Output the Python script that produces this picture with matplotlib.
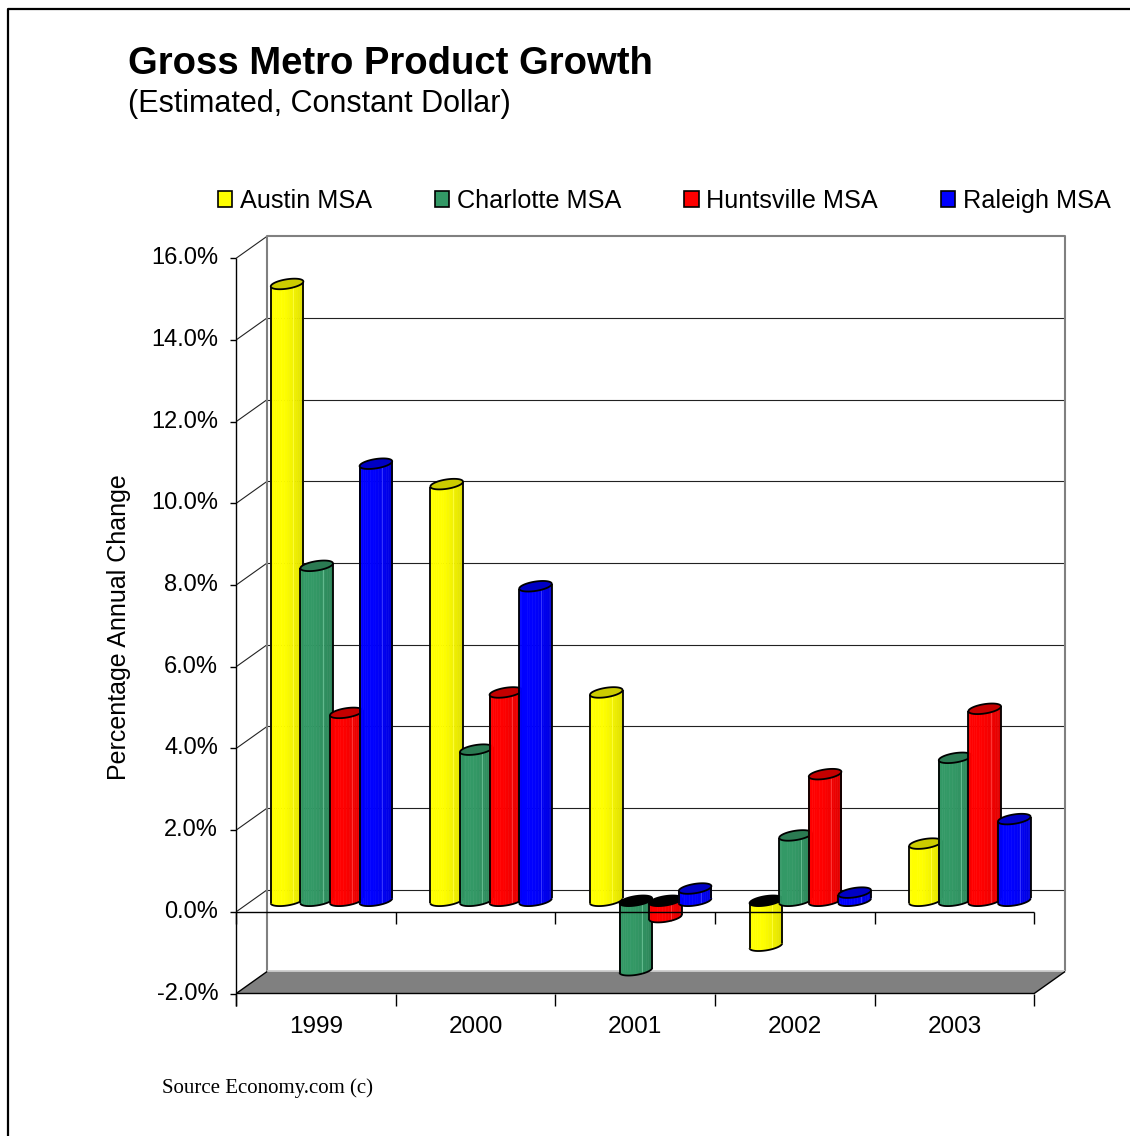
import numpy as np
import matplotlib
matplotlib.use("Agg")
import matplotlib.pyplot as plt
from matplotlib.patches import Polygon, Patch
from matplotlib.lines import Line2D

plt.rcParams['font.family'] = ['Liberation Sans', 'DejaVu Sans']

# data (% annual change)
years = ['1999', '2000', '2001', '2002', '2003']
series_names = ['Austin MSA', 'Charlotte MSA', 'Huntsville MSA', 'Raleigh MSA']
austin = [15.1, 10.2, 5.1, -1.1, 1.4]
charlotte = [8.2, 3.7, -1.7, 1.6, 3.5]
huntsville = [4.6, 5.1, -0.4, 3.1, 4.7]
raleigh = [10.7, 7.7, 0.3, 0.2, 2.0]
y_ticks = [-2, 0, 2, 4, 6, 8, 10, 12, 14, 16]

face_colors = ['#FFFF00', '#339966', '#FF0000', '#0000FF']
cap_colors = ['#CCCC00', '#2B7A52', '#C40000', '#0000C4']

# 3d box: depth offset, in data units
DX, DY = 0.194, 0.539
X0, X1 = -0.5, 4.5
YMIN, YMAX = -2, 16
PX_X, PX_Y = 159.6, 40.85   # pixels per category / per percent

fig = plt.figure(figsize=(11.3, 11.36), dpi=100)
ax = fig.add_axes([0, 0, 1, 1])
ax.set_xlim(-316 / PX_X, (1130 - 316) / PX_X)
ax.set_ylim((911.8 - 1136) / PX_Y, 911.8 / PX_Y)
ax.axis('off')


def line(xs, ys, **kw):
    ax.plot(xs, ys, solid_capstyle='butt', **kw)


# back wall
ax.add_patch(Polygon([(X0 + DX, YMIN + DY), (X1 + DX, YMIN + DY),
                      (X1 + DX, YMAX + DY), (X0 + DX, YMAX + DY)],
                     closed=True, fc='white', ec='none', zorder=1))
for v in y_ticks[1:-1]:
    line([X0 + DX, X1 + DX], [v + DY, v + DY], color='#222222', lw=0.8, zorder=2)
for v in y_ticks[1:]:
    line([X0, X0 + DX], [v, v + DY], color='#222222', lw=0.8, zorder=2)
line([X0 + DX, X0 + DX, X1 + DX, X1 + DX],
     [YMIN + DY, YMAX + DY, YMAX + DY, YMIN + DY], color='#808080', lw=1.5, zorder=3)

# floor
ax.add_patch(Polygon([(X0, YMIN), (X1, YMIN), (X1 + DX, YMIN + DY), (X0 + DX, YMIN + DY)],
                     closed=True, fc='#808080', ec='none', zorder=3))
line([X0 + DX, X1 + DX], [YMIN + DY, YMIN + DY], color='#C8C8C8', lw=1.2, zorder=3)
line([X0, X1, X1 + DX], [YMIN, YMIN, YMIN + DY], color='black', lw=1.0, zorder=3)
line([X0, X0 + DX], [YMIN, YMIN + DY], color='black', lw=1.0, zorder=3)

# cylinders
spacing = 0.1855
r = 14.5 / PX_X
rd = 0.24
dc = 0.5
t0 = np.arctan2(rd * DX, r)


def ring(xc, level, t):
    x = xc + r * np.cos(t) + (dc + rd * np.sin(t)) * DX
    y = level + (dc + rd * np.sin(t)) * DY
    return np.broadcast_arrays(x, y)


def cylinder(xc, value, base, cap, z):
    lo, hi = min(0, value), max(0, value)
    rgb = np.array(matplotlib.colors.to_rgb(base))
    n = 18
    ts = np.linspace(t0 + np.pi, t0 + 2 * np.pi, n + 1)
    for i in range(n):
        s = (i + 0.5) / n
        shade = 1.0 if s < 0.45 else 1.0 - 0.16 * (s - 0.45) / 0.55
        c = np.clip(rgb * shade, 0, 1)
        xa, ya = ring(xc, lo, ts[i:i + 2])
        xb, yb = ring(xc, hi, ts[i:i + 2])
        ax.add_patch(Polygon([(xa[0], ya[0]), (xa[1], ya[1]), (xb[1], yb[1]), (xb[0], yb[0])],
                             closed=True, fc=c, ec=c, lw=0.4, zorder=z))
    # faint highlight line
    xh, yh = ring(xc, np.array([lo, hi]), t0 + np.pi * 1.62)
    line(xh, yh, color=np.clip(rgb * 0.85 + 0.25, 0, 1), lw=0.6, zorder=z)
    tf = np.linspace(t0 + np.pi, t0 + 2 * np.pi, 60)
    xbf, ybf = ring(xc, lo, tf)
    xl, yl = ring(xc, np.array([lo, hi]), t0 + np.pi)
    xr, yr = ring(xc, np.array([lo, hi]), t0)
    line(xbf, ybf, color='black', lw=1.3, zorder=z)
    line(xl, yl, color='black', lw=1.3, zorder=z)
    line(xr, yr, color='black', lw=1.3, zorder=z)
    ta = np.linspace(0, 2 * np.pi, 80)
    xt, yt = ring(xc, hi, ta)
    ax.add_patch(Polygon(np.column_stack([xt, yt]), closed=True,
                         fc=cap if value >= 0 else 'black', ec='black', lw=1.3, zorder=z))


all_series = [austin, charlotte, huntsville, raleigh]
for i in range(len(years)):
    for j, vals in enumerate(all_series):
        xc = i + (j - 1.5) * spacing
        cylinder(xc, vals[i], face_colors[j], cap_colors[j], 5 + i * 4 + j)

# front axes
tick_x = 6 / PX_X
tick_y = 12 / PX_Y
line([X0, X1], [0, 0], color='black', lw=1.0, zorder=40)
for b in np.arange(X0, X1 + 0.01, 1.0):
    line([b, b], [0, -tick_y], color='black', lw=1.0, zorder=40)
    line([b, b], [YMIN, YMIN - tick_y], color='black', lw=1.0, zorder=40)
line([X0, X0], [YMAX, YMIN - tick_y], color='black', lw=1.0, zorder=40)
for v in y_ticks:
    line([X0 - tick_x, X0], [v, v], color='black', lw=1.0, zorder=40)
    ax.text(X0 - 18 / PX_X, v, f'{v:.1f}%', ha='right', va='center', fontsize=17)
for i, yr in enumerate(years):
    ax.text(i, (911.8 - 1027) / PX_Y, yr, ha='center', va='center', fontsize=17.5)

fig.text(119 / 1130, 1 - 627 / 1136, 'Percentage Annual Change', rotation=90,
         ha='center', va='center', fontsize=18)

# titles
fig.text(128 / 1130, 1 - 74 / 1136, 'Gross Metro Product Growth',
         fontsize=27.5, fontweight='bold', va='baseline')
fig.text(128 / 1130, 1 - 112 / 1136, '(Estimated, Constant Dollar)',
         fontsize=22, va='baseline')

# legend
handles = [Patch(fc=c, ec='black', lw=1.2) for c in face_colors]
fig.legend(handles, series_names, loc='center left', ncol=4, frameon=False,
           bbox_to_anchor=(218 / 1130, 1 - 201 / 1136), borderpad=0, borderaxespad=0,
           fontsize=18.2, handlelength=0.56, handleheight=0.56, handletextpad=0.3,
           columnspacing=2.5)

fig.text(162 / 1130, 1 - 1088 / 1136, 'Source Economy.com (c)',
         family=['Liberation Serif', 'DejaVu Serif'], fontsize=15, va='center')

# outer border
fig.add_artist(Line2D([8 / 1130, 8 / 1130, 1], [0, 1 - 9 / 1136, 1 - 9 / 1136],
                      transform=fig.transFigure, color='black', lw=1.6))

fig.savefig('out.png', dpi=100)
